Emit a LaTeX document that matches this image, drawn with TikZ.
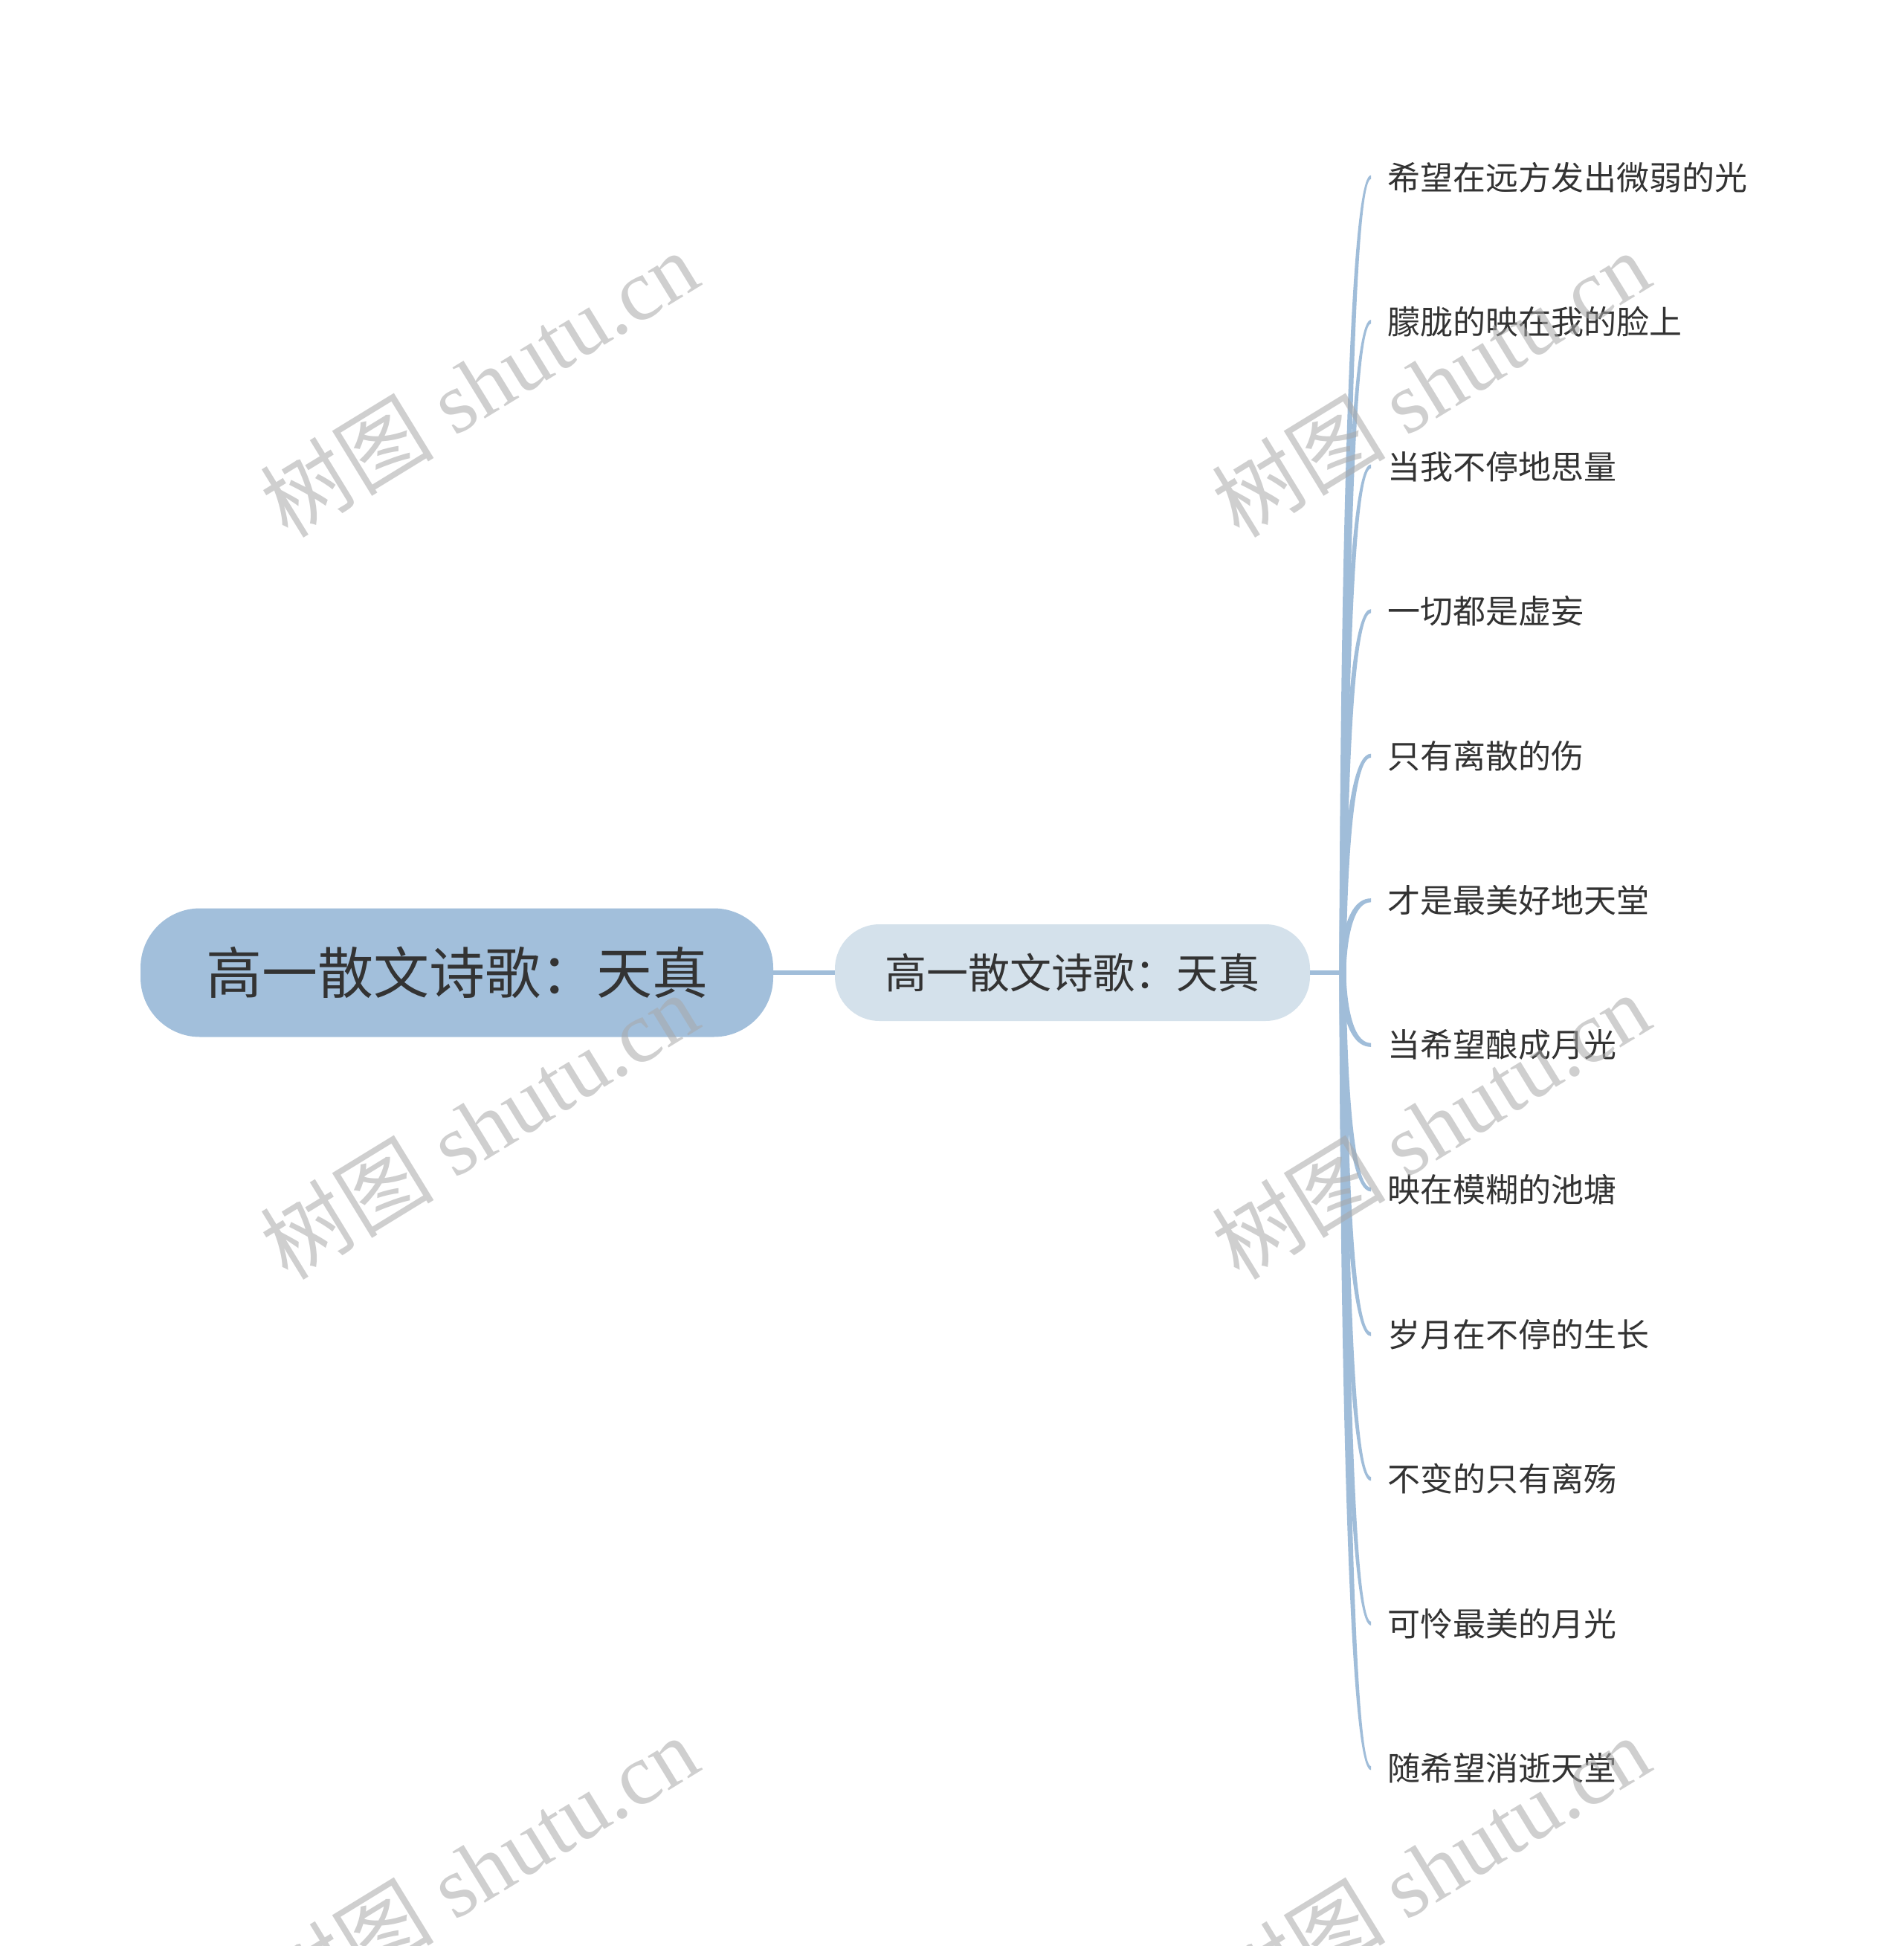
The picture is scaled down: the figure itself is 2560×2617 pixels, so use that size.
\documentclass[tikz,border=0pt]{standalone}
\usepackage{fontspec}
\newfontfamily\cjk{Noto Sans CJK SC}
\newfontfamily\wmserif{Liberation Serif}
\usetikzlibrary{calc}
\definecolor{rootfill}{HTML}{A2BFDB}
\definecolor{subfill}{HTML}{D4E1EB}
\definecolor{linec}{HTML}{A0BDD9}
\definecolor{txt}{HTML}{333333}
\definecolor{wmc}{HTML}{A8A8A8}
\newcommand\branchup[1]{\path[branch] let \p1=(T), \p2=($(#1.west)+(-11pt,0)$) in
  (\x1-2.25pt,\y1) .. controls (\x1-2.25pt,\y1) and (\x1-2.25pt,\y2+1.3pt) .. (\x2,\y2+1.3pt)
  -- (\x2,\y2-1.3pt) .. controls (\x1+2.25pt,\y2-1.3pt) and (\x1+2.25pt,\y1) .. (\x1+2.25pt,\y1) -- cycle;}
\newcommand\branchdn[1]{\path[branch] let \p1=(T), \p2=($(#1.west)+(-11pt,0)$) in
  (\x1-2.25pt,\y1) .. controls (\x1-2.25pt,\y1) and (\x1-2.25pt,\y2-1.3pt) .. (\x2,\y2-1.3pt)
  -- (\x2,\y2+1.3pt) .. controls (\x1+2.25pt,\y2+1.3pt) and (\x1+2.25pt,\y1) .. (\x1+2.25pt,\y1) -- cycle;}
\begin{document}
\begin{tikzpicture}[x=0.5pt,y=-0.5pt,
  rootbox/.style={rectangle, rounded corners=40pt, fill=rootfill, minimum width=425.5pt,
    minimum height=86.5pt, inner sep=0pt, text=txt, font=\cjk\fontsize{37.5pt}{40pt}\selectfont},
  subbox/.style={rectangle, rounded corners=30pt, fill=subfill, minimum width=319.5pt,
    minimum height=65pt, inner sep=0pt, text=txt, font=\cjk\fontsize{28pt}{30pt}\selectfont},
  leaf/.style={anchor=west, inner sep=0pt, text=txt, font=\cjk\fontsize{22pt}{24pt}\selectfont},
  conn/.style={draw=linec, line width=3pt},
  branch/.style={fill=linec},
  wm/.style={text=wmc, opacity=0.55, inner sep=0pt, font=\wmserif\fontsize{58.5pt}{62pt}\selectfont}
]
\useasboundingbox (0,0) rectangle (2560,2617);
\clip (0,0) rectangle (2560,2617);
\fill[white] (0,0) rectangle (2560,2617);

\node[rootbox] (root) at (614.5,1308) {高一散文诗歌：天真};
\node[subbox] (sub) at (1442.5,1308) {高一散文诗歌：天真};
\coordinate (T) at (1806,1308);

\foreach \t [count=\i] in {希望在远方发出微弱的光,朦胧的映在我的脸上,当我不停地思量,一切都是虚妄,只有离散的伤,才是最美好地天堂,当希望酿成月光,映在模糊的池塘,岁月在不停的生长,不变的只有离殇,可怜最美的月光,随希望消逝天堂}
  {\node[leaf] (l\i) at (1866,{1308+(\i-6.5)*194.5}) {\t};}

\draw[conn] (root.east) -- (sub.west);
\draw[conn] (sub.east) -- (T);
\foreach \i in {1,...,6} {\branchup{l\i}}
\foreach \i in {7,...,12} {\branchdn{l\i}}

\foreach \wx/\wy [count=\k] in {644/516,644/1514,644/2512,1924/516,1924/1514,1924/2512}
  {\node[wm, rotate=31.5] (wm\k) at (\wx,\wy) {{\cjk 树图} shutu.cn};}
\end{tikzpicture}
\end{document}
